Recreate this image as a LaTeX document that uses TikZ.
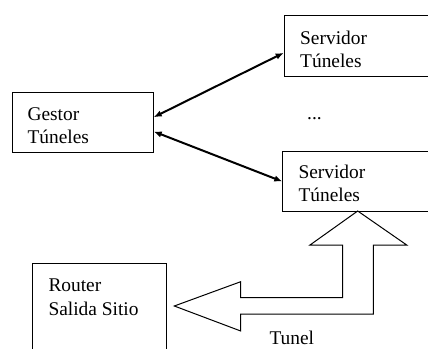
\documentclass[tikz,border=0pt]{standalone}
\usepackage{fontspec}
\setmainfont{Liberation Serif}
\usetikzlibrary{arrows.meta}
\begin{document}
\begin{tikzpicture}[x=1pt,y=-1pt,
  box/.style={draw,line width=1pt,rectangle,inner sep=0pt,anchor=north west},
  txt/.style={inner sep=0pt,align=left,anchor=base west,
    font=\rmfamily\fontsize{19.4}{23.3}\selectfont},
  link/.style={line width=2pt,{Latex[length=8pt,width=6.5pt]}-{Latex[length=8pt,width=6.5pt]}},
  bigarrow/.style={draw,line width=1pt,line join=miter}]
\useasboundingbox (0,0) rectangle (428,348);
\clip (0,0) rectangle (428,348);

% boxes (the right and bottom edges run off the page)
\node[box,minimum width=156.3pt,minimum height=60.7pt] (srvA) at (283.7,15) {};
\node[box,minimum width=141pt,minimum height=60pt] (gestor) at (11.7,92.3) {};
\node[box,minimum width=157.7pt,minimum height=60pt] (srvB) at (282.3,150.7) {};
\node[box,minimum width=133.7pt,minimum height=140pt] (router) at (32,263.3) {};

% box labels (anchored at the last line's baseline)
\node[txt] (srvAtxt) at (300,67.3) {Servidor\\Túneles};
\node[txt] (gestortxt) at (27.3,143.3) {Gestor\\Túneles};
\node[txt] (srvBtxt) at (298.3,201.7) {Servidor\\Túneles};
\node[txt] (routertxt) at (48.3,315) {Router\\Salida Sitio};
\node[txt] (dots) at (307,119) {...};
\node[txt] (tunel) at (269.3,344.5) {Tunel};

% control links
\draw[link] ([yshift=5.6pt]gestor.east) -- ([yshift=-7pt]srvA.west);
\draw[link] ([yshift=-8.7pt]gestor.east) -- ([yshift=-0.3pt]srvB.west);

% tunnel: bent double arrow from the server down and over to the router
\draw[bigarrow]
  (357.7,211) -- (406.7,245) -- (373.3,245) -- (373.3,314) -- (240.7,314)
  -- (240.7,331) -- (174.3,306) -- (240.7,281.7) -- (240.7,297.7)
  -- (342.7,297.7) -- (342.7,245) -- (310,245) -- cycle;
\end{tikzpicture}
\end{document}
